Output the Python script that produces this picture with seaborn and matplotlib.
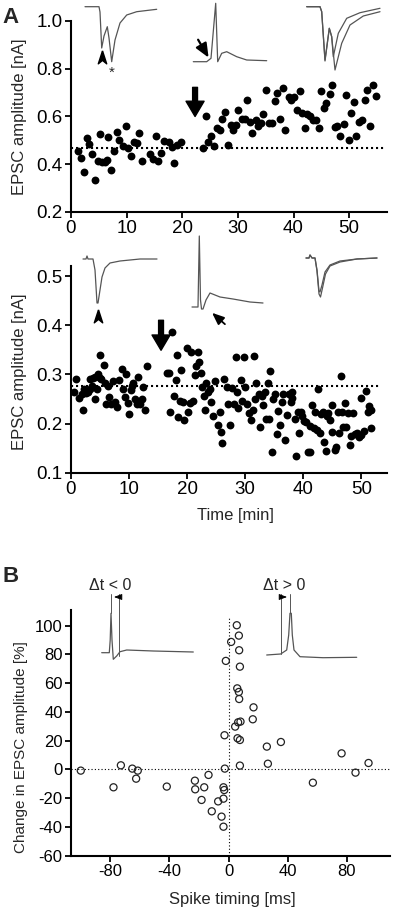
import matplotlib
matplotlib.use("Agg")
import matplotlib.pyplot as plt
import seaborn as sns

sns.set_theme(style="ticks")
plt.rcParams["font.family"] = ["Liberation Sans", "DejaVu Sans"]
plt.rcParams["axes.unicode_minus"] = False

# --- Panel A, top: EPSC amplitude over time (LTP cell) ---
time_a1 = [1.3, 1.8, 2.3, 2.8, 3.3, 3.8, 4.3, 4.8, 5.2, 5.6, 6.1, 6.4, 6.7, 7.2, 7.8, 8.2,
           8.7, 9.3, 9.8, 10.3, 10.8, 11.3, 11.8, 12.3, 12.8, 14.2, 14.8, 15.2, 15.7, 16.2,
           16.7, 17.7, 18.2, 18.6, 19.1, 19.7,
           23.7, 24.2, 24.7, 25.2, 25.7, 26.2, 26.7, 27.2, 27.6, 28.2, 28.7, 29.2, 29.7, 30.0,
           30.8, 31.3, 31.7, 32.2, 32.6, 33.2, 33.6, 34.1, 34.6, 35.1, 35.6, 36.1, 36.6, 37.0,
           37.6, 38.1, 38.5, 39.1, 39.6, 40.0, 40.6, 41.1, 41.6, 42.0, 42.5, 43.0, 43.5, 44.0,
           44.5, 45.0, 45.5, 45.9, 46.5, 46.9, 47.4, 47.9, 48.4, 49.0, 49.5, 49.9, 50.4, 50.8,
           51.3, 51.8, 52.3, 52.8, 53.2, 53.8, 54.3, 54.9]
amp_a1 = [0.456, 0.428, 0.366, 0.51, 0.484, 0.442, 0.336, 0.414, 0.526, 0.411, 0.408, 0.417,
          0.515, 0.378, 0.455, 0.533, 0.503, 0.476, 0.559, 0.467, 0.436, 0.492, 0.49, 0.529,
          0.415, 0.443, 0.422, 0.52, 0.414, 0.448, 0.498, 0.495, 0.473, 0.407, 0.481, 0.495,
          0.47, 0.601, 0.495, 0.517, 0.477, 0.551, 0.545, 0.59, 0.618, 0.481, 0.565, 0.545,
          0.565, 0.627, 0.59, 0.59, 0.671, 0.578, 0.529, 0.585, 0.562, 0.573, 0.61, 0.71,
          0.573, 0.571, 0.663, 0.699, 0.589, 0.72, 0.545, 0.683, 0.668, 0.68, 0.627, 0.708,
          0.615, 0.551, 0.61, 0.601, 0.587, 0.587, 0.551, 0.708, 0.635, 0.657, 0.694, 0.73,
          0.557, 0.562, 0.52, 0.568, 0.688, 0.503, 0.613, 0.66, 0.52, 0.576, 0.585, 0.668,
          0.713, 0.562, 0.73, 0.685]
baseline_a1 = 0.47
pairing_a1 = 22.3

# --- Panel A, bottom: EPSC amplitude over time (LTD cell) ---
time_a2 = [0.5, 0.9, 1.3, 1.9, 2.0, 2.3, 2.6, 2.9, 3.2, 3.3, 3.6, 3.8, 4.2, 4.4, 4.6, 4.1,
           5.0, 5.0, 5.2, 5.6, 5.8, 6.0, 6.4, 6.6, 6.9, 7.2, 7.5, 8.0, 8.2, 8.8, 9.0, 9.3,
           9.5, 9.8, 10.0, 10.3, 10.5, 10.7, 11.0, 11.3, 11.5, 11.9, 12.2, 12.4, 12.8, 13.0,
           16.5, 16.8, 17.0, 17.4, 17.7, 18.1, 18.2, 18.5, 18.8, 19.0, 19.2, 19.4, 19.9, 20.2,
           20.4, 20.7, 21.0, 21.3, 21.6, 21.9, 22.1, 22.4, 22.6, 22.9, 23.1, 23.3, 23.6, 23.9,
           24.1, 24.5, 24.8, 25.3, 25.6, 25.9, 26.0, 26.4, 26.8, 27.1, 27.4, 27.7, 28.0, 28.4,
           28.5, 28.8, 29.2, 29.4, 29.8, 30.0, 30.3, 30.7, 31.0, 31.3, 31.5, 31.7, 31.9, 32.3,
           32.5, 32.9, 33.1, 33.4, 33.5, 33.9, 34.1, 34.2, 34.6, 34.8, 35.1, 35.4, 35.7, 35.9,
           36.3, 36.5, 36.9, 37.2, 37.6, 37.8, 38.0, 38.1, 38.5, 38.7, 39.0, 39.3, 39.6, 39.8,
           40.1, 40.4, 40.8, 41.1, 41.2, 41.5, 41.8, 42.0, 42.3, 42.6, 42.8, 43.1, 43.3, 43.6,
           43.9, 44.0, 44.2, 44.6, 44.9, 45.0, 45.4, 45.7, 46.0, 46.2,
           46.5, 46.7, 46.9, 47.2, 47.4,
           47.6, 48.0, 48.2, 48.5, 48.9, 49.3, 49.6, 49.9, 50.0, 50.4, 50.7, 51.1, 51.3, 51.6, 51.7]
amp_a2 = [0.265, 0.29, 0.252, 0.261, 0.227, 0.27, 0.263, 0.265, 0.27, 0.291, 0.276, 0.293,
          0.295, 0.27, 0.3, 0.25, 0.293, 0.34, 0.29, 0.32, 0.283, 0.24, 0.276, 0.253, 0.24,
          0.286, 0.244, 0.233, 0.288, 0.311, 0.27, 0.253, 0.3, 0.241, 0.219, 0.268, 0.276,
          0.283, 0.25, 0.24, 0.294, 0.24, 0.25, 0.275, 0.227, 0.316,
          0.302, 0.302, 0.223, 0.386, 0.257, 0.288, 0.339, 0.214, 0.246, 0.309, 0.244, 0.208,
          0.354, 0.223, 0.241, 0.345, 0.246, 0.298, 0.317, 0.345, 0.326, 0.302, 0.274, 0.255,
          0.227, 0.282, 0.264, 0.27, 0.244, 0.215, 0.286, 0.196, 0.223, 0.183, 0.16, 0.29,
          0.274, 0.24, 0.198, 0.272, 0.24, 0.335, 0.265, 0.232, 0.288, 0.246, 0.335, 0.275,
          0.24, 0.221, 0.208, 0.227, 0.337, 0.25, 0.282, 0.26, 0.193, 0.255, 0.238, 0.265,
          0.21, 0.282, 0.21, 0.307, 0.143, 0.25, 0.26, 0.179, 0.225, 0.198, 0.244, 0.26,
          0.167, 0.217, 0.261, 0.244, 0.265, 0.252, 0.21, 0.134, 0.223, 0.181, 0.223, 0.215,
          0.206, 0.203, 0.143, 0.143, 0.195, 0.237, 0.191, 0.223, 0.187, 0.271, 0.181, 0.219,
          0.223, 0.162, 0.145, 0.215, 0.221, 0.207, 0.237, 0.183, 0.147, 0.153, 0.223, 0.181,
          0.297, 0.223, 0.193, 0.242, 0.193,
          0.221, 0.156, 0.175, 0.221, 0.178, 0.181, 0.173, 0.176, 0.251, 0.185, 0.267, 0.223,
          0.236, 0.228, 0.19]
baseline_a2 = 0.276
pairing_a2 = 15.5

# --- Panel B: plasticity vs spike timing ---
spike_timing = [-99.8, -77.7, -72.7, -65, -62.4, -61.3, -41.7, -22.7, -22.5, -16.4, -18.2,
                -13.5, -11.3, -7, -4.7, -3.4, -3.4, -2.9, -3.4, -2.5, -2.7, -1.8, 1.8, 5.6,
                7.0, 7.2, 7.7, 5.9, 7.0, 7.2, 4.5, 6.5, 8.1, 6.1, 7.7, 7.7, 16.9, 16.4, 25.9,
                26.6, 35.4, 57, 76.4, 85.8, 94.6]
epsc_change = [-0.9, -12.5, 2.8, 0.5, -6.5, -0.9, -12, -7.9, -13.9, -12.5, -21.3, -3.9,
               -29.2, -22.3, -32.9, -12.5, -20.4, -14.4, -39.9, 0.5, 23.7, 75.4, 88.6, 100.2,
               93, 82.8, 71.4, 56.3, 53.8, 48.9, 29.7, 32.7, 33.2, 21.6, 20.4, 2.6, 43.1,
               34.8, 15.8, 3.9, 19, -9.3, 11.1, -2.3, 4.4]

# --- example traces for the insets (pixel units of the figure) ---
tr_a1l_x = [85, 99, 100, 101.7, 104, 107.3, 109, 111.7, 115, 120, 126.7, 136.7, 156.7]
tr_a1l_y = [6.7, 6.7, 12, 48, 36, 26.7, 38, 61.7, 40, 23, 15, 11.7, 9.3]
tr_a1m_x = [193.3, 206.7, 211, 215.7, 217.7, 221.7, 226.7, 236.7, 246.7, 266.7]
tr_a1m_y = [61.7, 61.7, 58.3, 3.3, 61.7, 53.3, 51.7, 56.7, 60, 60.7]
tr_a1r1_x = [306.7, 320, 321.7, 325, 329.3, 331.7, 333.3, 338.3, 346.7, 360, 380]
tr_a1r1_y = [6.7, 6.7, 11.7, 60, 28.3, 36.7, 56.7, 33.3, 18.3, 12.7, 8.3]
tr_a1r2_x = [306.7, 320, 321.7, 325, 329.3, 331.7, 335, 341.7, 350, 363.3, 380]
tr_a1r2_y = [6.7, 6.7, 11.7, 61, 28.3, 36.7, 70, 43.3, 25, 16, 11.7]
tr_a2l_x = [83, 86, 87, 88, 93, 95, 97, 98, 100, 102, 105, 110, 120, 140, 157]
tr_a2l_y = [259, 259, 256, 259, 259, 270, 303, 303, 290, 277, 268, 263, 261, 259, 259]
tr_a2m_x = [192, 198, 199.3, 200.5, 201.5, 203, 206, 210, 220, 233, 250, 263]
tr_a2m_y = [307, 307, 236, 300, 309, 309, 300, 293, 297, 299, 302, 303]
tr_a2r1_x = [306, 309, 310, 312, 315, 317, 319, 320, 322, 325, 330, 340, 357, 377]
tr_a2r1_y = [258, 258, 255, 258, 258, 270, 291, 292, 285, 272, 265, 261, 259, 258]
tr_a2r2_x = [306, 309, 310, 312, 315, 317, 319, 320.5, 322.5, 325.5, 330, 340, 357, 377]
tr_a2r2_y = [258, 258, 255, 258, 258, 271, 294, 297, 288, 274, 266, 262, 259, 258]
tr_bl_x = [101.7, 109.3, 110.2, 111, 112, 113.3, 116.7, 120, 126.7, 153.3, 193.3]
tr_bl_y = [652.7, 652.7, 640, 613.3, 640, 659.3, 656, 651.7, 650, 651, 652]
tr_br_x = [266.7, 280.7, 286.7, 288.7, 290, 291.3, 292.3, 294, 300, 323, 356.7]
tr_br_y = [655, 654, 650, 635, 613.3, 613.3, 635, 650, 656.7, 657.7, 657.3]

W, H = 397, 915
fig = plt.figure(figsize=(W / 100, H / 100), dpi=100)


def px_axes(left, top, right, bottom):
    return fig.add_axes([left / W, 1 - bottom / H, (right - left) / W, (bottom - top) / H])


def style_axes(ax, size):
    sns.despine(ax=ax)
    for s in ["left", "bottom"]:
        ax.spines[s].set_linewidth(1.5)
        ax.spines[s].set_color("black")
    ax.tick_params(direction="out", length=4, width=1.3, labelsize=size, colors="black", pad=2)


dot_style = (0, (1, 1.4))

# panel A top
ax1 = px_axes(71, 21, 387, 212)
sns.scatterplot(x=time_a1, y=amp_a1, ax=ax1, color="black", s=32, linewidth=0, zorder=3)
ax1.axhline(baseline_a1, xmin=0, xmax=0.99, color="black", lw=1.5, linestyle=dot_style)
ax1.annotate("", xy=(pairing_a1, 0.6), xytext=(pairing_a1, 0.722),
             arrowprops=dict(facecolor="black", edgecolor="black", width=3.5,
                             headwidth=13, headlength=11, shrink=0))
ax1.set_xlim(0, 56.8)
ax1.set_ylim(0.2, 1.0)
ax1.set_xticks([0, 10, 20, 30, 40, 50])
ax1.set_yticks([0.2, 0.4, 0.6, 0.8, 1.0])
ax1.set_yticklabels(["0.2", "0.4", "0.6", "0.8", "1.0"])
ax1.set_ylabel("EPSC amplitude [nA]", fontsize=12)
ax1.yaxis.set_label_coords(-0.14, 0.5)
style_axes(ax1, 13.5)

# panel A bottom
ax2 = px_axes(71, 266.2, 387, 472.7)
sns.scatterplot(x=time_a2, y=amp_a2, ax=ax2, color="black", s=32, linewidth=0, zorder=3)
ax2.axhline(baseline_a2, xmin=0, xmax=0.978, color="black", lw=1.5, linestyle=dot_style)
ax2.annotate("", xy=(pairing_a2, 0.349), xytext=(pairing_a2, 0.41),
             arrowprops=dict(facecolor="black", edgecolor="black", width=3.5,
                             headwidth=13, headlength=11, shrink=0))
ax2.set_xlim(0, 54.4)
ax2.set_ylim(0.1, 0.52)
ax2.set_xticks([0, 10, 20, 30, 40, 50])
ax2.set_yticks([0.1, 0.2, 0.3, 0.4, 0.5])
ax2.set_ylabel("EPSC amplitude [nA]", fontsize=12)
ax2.yaxis.set_label_coords(-0.14, 0.49)
ax2.set_xlabel("Time [min]", fontsize=12)
ax2.xaxis.set_label_coords(0.52, -0.17)
style_axes(ax2, 13.5)

# panel B
ax3 = px_axes(71, 610, 390, 855.6)
ax3.axhline(0, color="black", lw=0.8, linestyle=(0, (1, 2)))
ax3.axvline(0, ymin=0, ymax=0.972, color="black", lw=0.8, linestyle=(0, (1, 2)))
sns.scatterplot(x=spike_timing, y=epsc_change, ax=ax3, facecolor="none", edgecolor="#222222",
                s=26, linewidth=0.9, zorder=3)
ax3.set_xlim(-106.4, 109.1)
ax3.set_ylim(-60, 110.8)
ax3.set_xticks([-80, -40, 0, 40, 80])
ax3.set_yticks(list(range(-60, 101, 20)))
ax3.set_ylabel("Change in EPSC amplitude [%]", fontsize=11)
ax3.yaxis.set_label_coords(-0.135, 0.44)
ax3.set_xlabel("Spike timing [ms]", fontsize=12)
ax3.xaxis.set_label_coords(0.506, -0.15)
style_axes(ax3, 12)

# overlay for traces, arrows and panel letters
ov = fig.add_axes([0, 0, 1, 1], zorder=10)
ov.set_xlim(0, W)
ov.set_ylim(H, 0)
ov.axis("off")
ov.patch.set_visible(False)
trace_kw = dict(color="#555555", lw=0.9)
for xs, ys in [(tr_a1l_x, tr_a1l_y), (tr_a1m_x, tr_a1m_y), (tr_a1r1_x, tr_a1r1_y),
               (tr_a1r2_x, tr_a1r2_y), (tr_a2l_x, tr_a2l_y), (tr_a2m_x, tr_a2m_y),
               (tr_a2r1_x, tr_a2r1_y), (tr_a2r2_x, tr_a2r2_y), (tr_bl_x, tr_bl_y),
               (tr_br_x, tr_br_y)]:
    ov.plot(xs, ys, **trace_kw)

chevron = [(0, 1), (-0.55, -0.7), (0, -0.25), (0.55, -0.7), (0, 1)]
ov.plot([101.7, 98], [58, 317], marker=chevron, markersize=11, color="black", lw=0)
ov.text(111.7, 66, "*", fontsize=11, ha="center", va="top")
ov.annotate("", xy=(210, 60), xytext=(196.7, 37.3),
            arrowprops=dict(arrowstyle="-|>,head_length=0.7,head_width=0.3", color="black", lw=1.6))
ov.annotate("", xy=(210, 311), xytext=(227, 326),
            arrowprops=dict(arrowstyle="-|>,head_length=0.6,head_width=0.25", color="black", lw=1.3))

# delta t markers
ov.plot([110.7, 110.7], [594, 613], color="#555555", lw=0.7)
ov.plot([119.3, 119.3], [594, 656], color="#555555", lw=0.7)
ov.annotate("", xy=(111.2, 597), xytext=(119.3, 597),
            arrowprops=dict(arrowstyle="-|>,head_length=0.4,head_width=0.15", color="black", lw=0.6))
ov.plot([280.7, 280.7], [594, 654], color="#555555", lw=0.7)
ov.plot([290.3, 290.3], [594, 613], color="#555555", lw=0.7)
ov.annotate("", xy=(289.8, 597), xytext=(280.7, 597),
            arrowprops=dict(arrowstyle="-|>,head_length=0.4,head_width=0.15", color="black", lw=0.6))
ov.text(110.5, 586, "Δt < 0", fontsize=11.5, ha="center", va="center")
ov.text(284, 586, "Δt > 0", fontsize=11.5, ha="center", va="center")

fig.text(2 / W, 1 - 7 / H, "A", fontsize=16, fontweight="bold", va="top", ha="left")
fig.text(2 / W, 1 - 566 / H, "B", fontsize=16, fontweight="bold", va="top", ha="left")

fig.savefig("out.png", dpi=100, facecolor="white")
